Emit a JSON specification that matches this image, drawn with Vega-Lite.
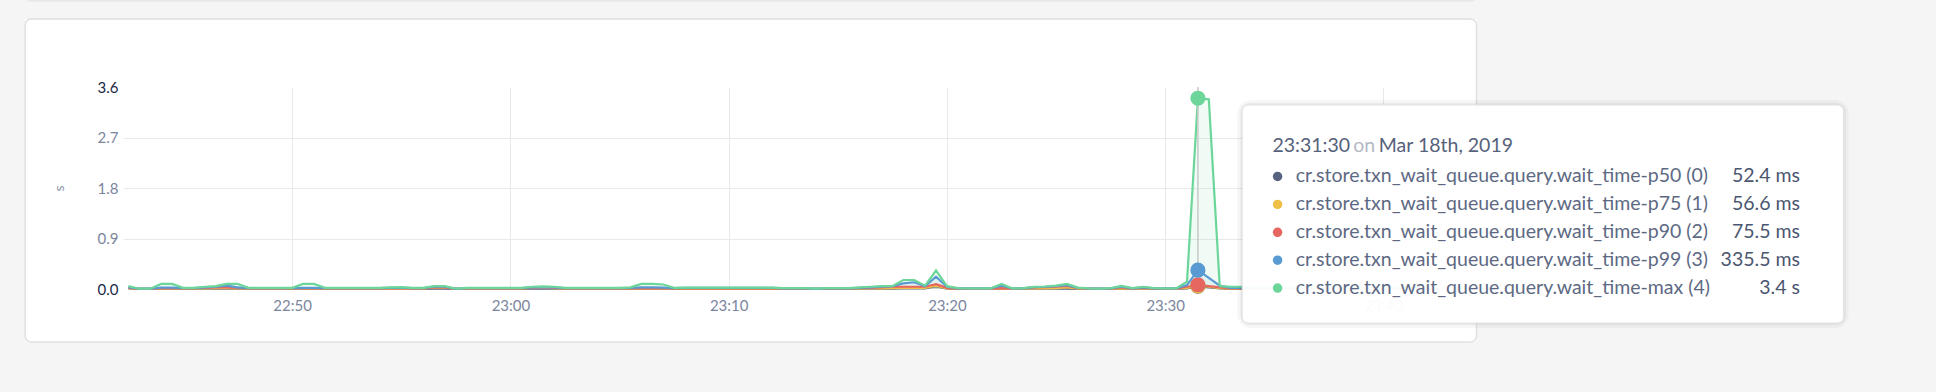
{
  "$schema": "https://vega.github.io/schema/vega-lite/v6.json",
  "width": 1315,
  "height": 202,
  "autosize": {"type": "none"},
  "padding": {"left": 123, "top": 87, "right": 498, "bottom": 103},
  "background": "white",
  "config": {
    "font": "Lato",
    "view": {"stroke": null},
    "axis": {"domain": false, "ticks": false, "labelFont": "Lato", "labelFontSize": 15, "labelColor": "#7b869e", "gridColor": "#e9e9e9", "gridWidth": 1},
    "text": {"font": "Lato"}
  },
  "layer": [
    {
      "data": {"values": [{}]},
      "mark": {"type": "rect", "fill": "#f5f5f5"},
      "encoding": {
        "x": {"datum": {"year": 1900, "month": 1, "date": 1, "hours": 22, "minutes": 20, "seconds": 0}, "type": "temporal"},
        "x2": {"datum": {"year": 1900, "month": 1, "date": 1, "hours": 22, "minutes": 37, "seconds": 46}},
        "y": {"datum": -3},
        "y2": {"datum": 8}
      }
    },
    {
      "data": {"values": [{}]},
      "mark": {"type": "rect", "fill": "#f5f5f5"},
      "encoding": {
        "x": {"datum": {"year": 1900, "month": 1, "date": 1, "hours": 23, "minutes": 44, "seconds": 16}, "type": "temporal"},
        "x2": {"datum": {"year": 1900, "month": 1, "date": 2, "hours": 1, "minutes": 0, "seconds": 0}},
        "y": {"datum": -3},
        "y2": {"datum": 8}
      }
    },
    {
      "data": {"values": [{}]},
      "mark": {"type": "rect", "fill": "#f5f5f5"},
      "encoding": {
        "x": {"datum": {"year": 1900, "month": 1, "date": 1, "hours": 22, "minutes": 20, "seconds": 0}, "type": "temporal"},
        "x2": {"datum": {"year": 1900, "month": 1, "date": 2, "hours": 1, "minutes": 0, "seconds": 0}},
        "y": {"datum": 4.812},
        "y2": {"datum": 8}
      }
    },
    {
      "data": {"values": [{}]},
      "mark": {"type": "rect", "fill": "#f5f5f5"},
      "encoding": {
        "x": {"datum": {"year": 1900, "month": 1, "date": 1, "hours": 22, "minutes": 20, "seconds": 0}, "type": "temporal"},
        "x2": {"datum": {"year": 1900, "month": 1, "date": 2, "hours": 1, "minutes": 0, "seconds": 0}},
        "y": {"datum": -3},
        "y2": {"datum": -0.945}
      }
    },
    {
      "data": {"values": [{}]},
      "mark": {"type": "rect", "fill": "#e9e9e9", "cornerRadius": 5},
      "encoding": {
        "x": {"datum": {"year": 1900, "month": 1, "date": 1, "hours": 22, "minutes": 37, "seconds": 46}, "type": "temporal"},
        "x2": {"datum": {"year": 1900, "month": 1, "date": 1, "hours": 23, "minutes": 44, "seconds": 16}},
        "y": {"datum": 5.12},
        "y2": {"datum": 8}
      }
    },
    {
      "data": {"values": [{}]},
      "mark": {"type": "rect", "fill": "white", "fillOpacity": 0, "stroke": "#e0e0e0", "strokeWidth": 1.5, "cornerRadius": 6},
      "encoding": {
        "x": {"datum": {"year": 1900, "month": 1, "date": 1, "hours": 22, "minutes": 37, "seconds": 46}, "type": "temporal"},
        "x2": {"datum": {"year": 1900, "month": 1, "date": 1, "hours": 23, "minutes": 44, "seconds": 16}},
        "y": {"datum": -0.945},
        "y2": {"datum": 4.812}
      }
    },
    {
      "data": {
        "values": [
          {"t":"22:42:30","p50":0.01,"p75":0.015,"p90":0.02,"p99":0.03,"max":0.05},
          {"t":"22:43:00","p50":0.002,"p75":0.003,"p90":0.004,"p99":0.005,"max":0.005},
          {"t":"22:43:30","p50":0.002,"p75":0.003,"p90":0.004,"p99":0.005,"max":0.005},
          {"t":"22:44:00","p50":0.004,"p75":0.006,"p90":0.01,"p99":0.025,"max":0.09},
          {"t":"22:44:30","p50":0.004,"p75":0.006,"p90":0.01,"p99":0.025,"max":0.09},
          {"t":"22:45:00","p50":0.004,"p75":0.006,"p90":0.01,"p99":0.015,"max":0.02},
          {"t":"22:45:30","p50":0.004,"p75":0.006,"p90":0.01,"p99":0.015,"max":0.02},
          {"t":"22:46:00","p50":0.006,"p75":0.01,"p90":0.02,"p99":0.03,"max":0.04},
          {"t":"22:46:30","p50":0.008,"p75":0.015,"p90":0.03,"p99":0.04,"max":0.05},
          {"t":"22:47:00","p50":0.008,"p75":0.015,"p90":0.03,"p99":0.06,"max":0.09},
          {"t":"22:47:30","p50":0.006,"p75":0.01,"p90":0.02,"p99":0.03,"max":0.09},
          {"t":"22:48:00","p50":0.004,"p75":0.006,"p90":0.01,"p99":0.015,"max":0.02},
          {"t":"22:48:30","p50":0.004,"p75":0.006,"p90":0.01,"p99":0.015,"max":0.02},
          {"t":"22:49:00","p50":0.004,"p75":0.006,"p90":0.01,"p99":0.015,"max":0.02},
          {"t":"22:49:30","p50":0.004,"p75":0.006,"p90":0.01,"p99":0.015,"max":0.02},
          {"t":"22:50:00","p50":0.004,"p75":0.006,"p90":0.01,"p99":0.015,"max":0.02},
          {"t":"22:50:30","p50":0.004,"p75":0.006,"p90":0.01,"p99":0.02,"max":0.09},
          {"t":"22:51:00","p50":0.004,"p75":0.006,"p90":0.01,"p99":0.02,"max":0.09},
          {"t":"22:51:30","p50":0.004,"p75":0.006,"p90":0.01,"p99":0.015,"max":0.02},
          {"t":"22:52:00","p50":0.004,"p75":0.006,"p90":0.01,"p99":0.015,"max":0.02},
          {"t":"22:52:30","p50":0.004,"p75":0.006,"p90":0.01,"p99":0.015,"max":0.02},
          {"t":"22:53:00","p50":0.004,"p75":0.006,"p90":0.01,"p99":0.015,"max":0.02},
          {"t":"22:53:30","p50":0.004,"p75":0.006,"p90":0.01,"p99":0.015,"max":0.02},
          {"t":"22:54:00","p50":0.004,"p75":0.006,"p90":0.01,"p99":0.015,"max":0.02},
          {"t":"22:54:30","p50":0.005,"p75":0.008,"p90":0.012,"p99":0.02,"max":0.03},
          {"t":"22:55:00","p50":0.005,"p75":0.008,"p90":0.015,"p99":0.025,"max":0.035},
          {"t":"22:55:30","p50":0.004,"p75":0.006,"p90":0.01,"p99":0.015,"max":0.02},
          {"t":"22:56:00","p50":0.004,"p75":0.006,"p90":0.01,"p99":0.015,"max":0.02},
          {"t":"22:56:30","p50":0.008,"p75":0.025,"p90":0.03,"p99":0.04,"max":0.05},
          {"t":"22:57:00","p50":0.008,"p75":0.025,"p90":0.03,"p99":0.04,"max":0.05},
          {"t":"22:57:30","p50":0.002,"p75":0.003,"p90":0.004,"p99":0.004,"max":0.005},
          {"t":"22:58:00","p50":0.004,"p75":0.006,"p90":0.01,"p99":0.015,"max":0.02},
          {"t":"22:58:30","p50":0.004,"p75":0.006,"p90":0.01,"p99":0.015,"max":0.02},
          {"t":"22:59:00","p50":0.004,"p75":0.006,"p90":0.01,"p99":0.015,"max":0.02},
          {"t":"22:59:30","p50":0.004,"p75":0.006,"p90":0.01,"p99":0.015,"max":0.02},
          {"t":"23:00:00","p50":0.004,"p75":0.006,"p90":0.01,"p99":0.015,"max":0.02},
          {"t":"23:00:30","p50":0.004,"p75":0.006,"p90":0.01,"p99":0.015,"max":0.02},
          {"t":"23:01:00","p50":0.006,"p75":0.02,"p90":0.025,"p99":0.03,"max":0.04},
          {"t":"23:01:30","p50":0.006,"p75":0.025,"p90":0.03,"p99":0.035,"max":0.045},
          {"t":"23:02:00","p50":0.006,"p75":0.015,"p90":0.02,"p99":0.03,"max":0.04},
          {"t":"23:02:30","p50":0.004,"p75":0.006,"p90":0.01,"p99":0.015,"max":0.02},
          {"t":"23:03:00","p50":0.004,"p75":0.006,"p90":0.01,"p99":0.015,"max":0.02},
          {"t":"23:03:30","p50":0.004,"p75":0.006,"p90":0.01,"p99":0.015,"max":0.02},
          {"t":"23:04:00","p50":0.004,"p75":0.006,"p90":0.01,"p99":0.015,"max":0.02},
          {"t":"23:04:30","p50":0.004,"p75":0.006,"p90":0.01,"p99":0.015,"max":0.02},
          {"t":"23:05:00","p50":0.004,"p75":0.006,"p90":0.01,"p99":0.015,"max":0.02},
          {"t":"23:05:30","p50":0.004,"p75":0.006,"p90":0.01,"p99":0.02,"max":0.03},
          {"t":"23:06:00","p50":0.004,"p75":0.006,"p90":0.01,"p99":0.03,"max":0.09},
          {"t":"23:06:30","p50":0.004,"p75":0.006,"p90":0.01,"p99":0.03,"max":0.09},
          {"t":"23:07:00","p50":0.004,"p75":0.006,"p90":0.01,"p99":0.025,"max":0.08},
          {"t":"23:07:30","p50":0.004,"p75":0.006,"p90":0.01,"p99":0.015,"max":0.02},
          {"t":"23:08:00","p50":0.004,"p75":0.006,"p90":0.012,"p99":0.02,"max":0.025},
          {"t":"23:08:30","p50":0.004,"p75":0.006,"p90":0.012,"p99":0.02,"max":0.025},
          {"t":"23:09:00","p50":0.004,"p75":0.006,"p90":0.012,"p99":0.02,"max":0.025},
          {"t":"23:09:30","p50":0.004,"p75":0.006,"p90":0.012,"p99":0.02,"max":0.025},
          {"t":"23:10:00","p50":0.004,"p75":0.006,"p90":0.012,"p99":0.02,"max":0.025},
          {"t":"23:10:30","p50":0.004,"p75":0.006,"p90":0.012,"p99":0.02,"max":0.025},
          {"t":"23:11:00","p50":0.004,"p75":0.006,"p90":0.012,"p99":0.02,"max":0.025},
          {"t":"23:11:30","p50":0.004,"p75":0.006,"p90":0.012,"p99":0.02,"max":0.025},
          {"t":"23:12:00","p50":0.004,"p75":0.006,"p90":0.012,"p99":0.02,"max":0.025},
          {"t":"23:12:30","p50":0.003,"p75":0.005,"p90":0.008,"p99":0.01,"max":0.015},
          {"t":"23:13:00","p50":0.003,"p75":0.005,"p90":0.008,"p99":0.01,"max":0.015},
          {"t":"23:13:30","p50":0.003,"p75":0.005,"p90":0.008,"p99":0.01,"max":0.015},
          {"t":"23:14:00","p50":0.002,"p75":0.003,"p90":0.004,"p99":0.004,"max":0.005},
          {"t":"23:14:30","p50":0.003,"p75":0.005,"p90":0.008,"p99":0.01,"max":0.015},
          {"t":"23:15:00","p50":0.003,"p75":0.005,"p90":0.008,"p99":0.01,"max":0.015},
          {"t":"23:15:30","p50":0.003,"p75":0.005,"p90":0.008,"p99":0.01,"max":0.015},
          {"t":"23:16:00","p50":0.004,"p75":0.008,"p90":0.015,"p99":0.02,"max":0.03},
          {"t":"23:16:30","p50":0.005,"p75":0.01,"p90":0.02,"p99":0.03,"max":0.04},
          {"t":"23:17:00","p50":0.006,"p75":0.012,"p90":0.03,"p99":0.04,"max":0.05},
          {"t":"23:17:30","p50":0.008,"p75":0.015,"p90":0.04,"p99":0.05,"max":0.05},
          {"t":"23:18:00","p50":0.01,"p75":0.02,"p90":0.04,"p99":0.1,"max":0.16},
          {"t":"23:18:30","p50":0.01,"p75":0.02,"p90":0.04,"p99":0.12,"max":0.16},
          {"t":"23:19:00","p50":0.01,"p75":0.02,"p90":0.04,"p99":0.05,"max":0.06},
          {"t":"23:19:30","p50":0.05,"p75":0.06,"p90":0.085,"p99":0.22,"max":0.33},
          {"t":"23:20:00","p50":0.006,"p75":0.01,"p90":0.02,"p99":0.04,"max":0.05},
          {"t":"23:20:30","p50":0.003,"p75":0.005,"p90":0.008,"p99":0.01,"max":0.015},
          {"t":"23:21:00","p50":0.003,"p75":0.005,"p90":0.008,"p99":0.01,"max":0.01},
          {"t":"23:21:30","p50":0.003,"p75":0.005,"p90":0.008,"p99":0.01,"max":0.01},
          {"t":"23:22:00","p50":0.003,"p75":0.005,"p90":0.008,"p99":0.01,"max":0.01},
          {"t":"23:22:30","p50":0.004,"p75":0.008,"p90":0.015,"p99":0.06,"max":0.09},
          {"t":"23:23:00","p50":0.003,"p75":0.005,"p90":0.008,"p99":0.01,"max":0.01},
          {"t":"23:23:30","p50":0.003,"p75":0.005,"p90":0.01,"p99":0.012,"max":0.015},
          {"t":"23:24:00","p50":0.005,"p75":0.01,"p90":0.03,"p99":0.035,"max":0.04},
          {"t":"23:24:30","p50":0.005,"p75":0.012,"p90":0.035,"p99":0.04,"max":0.045},
          {"t":"23:25:00","p50":0.006,"p75":0.015,"p90":0.04,"p99":0.05,"max":0.06},
          {"t":"23:25:30","p50":0.008,"p75":0.03,"p90":0.055,"p99":0.07,"max":0.09},
          {"t":"23:26:00","p50":0.004,"p75":0.008,"p90":0.015,"p99":0.02,"max":0.025},
          {"t":"23:26:30","p50":0.003,"p75":0.005,"p90":0.008,"p99":0.01,"max":0.01},
          {"t":"23:27:00","p50":0.002,"p75":0.003,"p90":0.004,"p99":0.005,"max":0.005},
          {"t":"23:27:30","p50":0.003,"p75":0.005,"p90":0.008,"p99":0.01,"max":0.015},
          {"t":"23:28:00","p50":0.004,"p75":0.008,"p90":0.03,"p99":0.04,"max":0.055},
          {"t":"23:28:30","p50":0.003,"p75":0.005,"p90":0.008,"p99":0.01,"max":0.015},
          {"t":"23:29:00","p50":0.004,"p75":0.008,"p90":0.02,"p99":0.03,"max":0.04},
          {"t":"23:29:30","p50":0.003,"p75":0.005,"p90":0.008,"p99":0.01,"max":0.015},
          {"t":"23:30:00","p50":0.003,"p75":0.005,"p90":0.008,"p99":0.01,"max":0.01},
          {"t":"23:30:30","p50":0.003,"p75":0.005,"p90":0.008,"p99":0.01,"max":0.01},
          {"t":"23:31:00","p50":0.01,"p75":0.02,"p90":0.04,"p99":0.07,"max":0.13},
          {"t":"23:31:30","p50":0.0524,"p75":0.0566,"p90":0.0755,"p99":0.3355,"max":3.4},
          {"t":"23:32:00","p50":0.035,"p75":0.04,"p90":0.05,"p99":0.2,"max":3.38},
          {"t":"23:32:30","p50":0.01,"p75":0.015,"p90":0.03,"p99":0.06,"max":0.05},
          {"t":"23:33:00","p50":0.004,"p75":0.006,"p90":0.01,"p99":0.02,"max":0.04},
          {"t":"23:33:30","p50":0.004,"p75":0.006,"p90":0.01,"p99":0.02,"max":0.04},
          {"t":"23:34:00","p50":0.004,"p75":0.006,"p90":0.01,"p99":0.02,"max":0.04},
          {"t":"23:34:30","p50":0.004,"p75":0.006,"p90":0.01,"p99":0.02,"max":0.04},
          {"t":"23:35:00","p50":0.004,"p75":0.006,"p90":0.01,"p99":0.02,"max":0.04},
          {"t":"23:35:30","p50":0.004,"p75":0.006,"p90":0.01,"p99":0.02,"max":0.04},
          {"t":"23:36:00","p50":0.004,"p75":0.006,"p90":0.01,"p99":0.02,"max":0.04},
          {"t":"23:36:30","p50":0.004,"p75":0.006,"p90":0.01,"p99":0.02,"max":0.04},
          {"t":"23:37:00","p50":0.004,"p75":0.006,"p90":0.01,"p99":0.02,"max":0.04},
          {"t":"23:37:30","p50":0.004,"p75":0.006,"p90":0.01,"p99":0.02,"max":0.04},
          {"t":"23:38:00","p50":0.004,"p75":0.006,"p90":0.01,"p99":0.02,"max":0.04},
          {"t":"23:38:30","p50":0.004,"p75":0.006,"p90":0.01,"p99":0.02,"max":0.04},
          {"t":"23:39:00","p50":0.004,"p75":0.006,"p90":0.01,"p99":0.02,"max":0.04},
          {"t":"23:39:30","p50":0.004,"p75":0.006,"p90":0.01,"p99":0.02,"max":0.04},
          {"t":"23:40:00","p50":0.004,"p75":0.006,"p90":0.01,"p99":0.02,"max":0.04},
          {"t":"23:40:30","p50":0.004,"p75":0.006,"p90":0.01,"p99":0.02,"max":0.04},
          {"t":"23:41:00","p50":0.004,"p75":0.006,"p90":0.01,"p99":0.02,"max":0.04},
          {"t":"23:41:30","p50":0.004,"p75":0.006,"p90":0.01,"p99":0.02,"max":0.04},
          {"t":"23:42:00","p50":0.004,"p75":0.006,"p90":0.01,"p99":0.02,"max":0.04},
          {"t":"23:42:30","p50":0.004,"p75":0.006,"p90":0.01,"p99":0.02,"max":0.04}
        ],
        "format": {"parse": {"t": "date:'%H:%M:%S'"}}
      },
      "transform": [{"fold": ["p50", "p75", "p90", "p99", "max"], "as": ["key", "v"]}],
      "encoding": {
        "x": {
          "field": "t", "type": "temporal", "title": null,
          "scale": {"domain": [{"year": 1900, "month": 1, "date": 1, "hours": 22, "minutes": 42, "seconds": 15}, {"year": 1900, "month": 1, "date": 1, "hours": 23, "minutes": 42, "seconds": 30}], "nice": false},
          "axis": {
            "format": "%H:%M", "labelPadding": 9, "grid": true,
            "values": [
              {"year": 1900, "month": 1, "date": 1, "hours": 22, "minutes": 50},
              {"year": 1900, "month": 1, "date": 1, "hours": 23, "minutes": 0},
              {"year": 1900, "month": 1, "date": 1, "hours": 23, "minutes": 10},
              {"year": 1900, "month": 1, "date": 1, "hours": 23, "minutes": 20},
              {"year": 1900, "month": 1, "date": 1, "hours": 23, "minutes": 30},
              {"year": 1900, "month": 1, "date": 1, "hours": 23, "minutes": 40}
            ]
          }
        },
        "y": {
          "field": "v", "type": "quantitative", "title": "s", "stack": null,
          "scale": {"domain": [0, 3.6], "nice": false, "zero": false},
          "axis": {
            "values": [0, 0.9, 1.8, 2.7, 3.6], "format": ".1f", "labelPadding": 5, "grid": true,
            "gridOpacity": {"condition": {"test": "datum.value == 0 || datum.value == 3.6", "value": 0}, "value": 1},
            "labelColor": {"condition": {"test": "datum.value == 0 || datum.value == 3.6", "value": "#1b2a47"}, "value": "#7b869e"},
            "titleFont": "Lato", "titleFontSize": 14, "titleFontWeight": "normal", "titleColor": "#8c94a6", "titlePadding": 31
          }
        },
        "color": {
          "field": "key", "type": "nominal", "legend": null,
          "scale": {"domain": ["p50", "p75", "p90", "p99", "max"], "range": ["#56627f", "#efc046", "#e5675f", "#5a9ad2", "#6cd69a"]}
        }
      },
      "layer": [
        {"mark": {"type": "area", "opacity": 0.1}},
        {"transform": [{"filter": "datum.key != 'max'"}], "mark": {"type": "line", "strokeWidth": 2.2}},
        {"transform": [{"filter": "datum.key == 'max'"}], "mark": {"type": "line", "strokeWidth": 2.2}}
      ]
    },
    {
      "data": {"values": [{}]},
      "mark": {"type": "rule", "color": "#c8c8c8", "strokeWidth": 1.5},
      "encoding": {
        "x": {"datum": {"year": 1900, "month": 1, "date": 1, "hours": 23, "minutes": 31, "seconds": 30}, "type": "temporal"}
      }
    },
    {
      "data": {
        "values": [
          {"t": "23:31:30", "key": "p50", "v": 0.0524},
          {"t": "23:31:30", "key": "p75", "v": 0.0566},
          {"t": "23:31:30", "key": "p90", "v": 0.0755},
          {"t": "23:31:30", "key": "p99", "v": 0.3355},
          {"t": "23:31:30", "key": "max", "v": 3.4}
        ],
        "format": {"parse": {"t": "date:'%H:%M:%S'"}}
      },
      "mark": {"type": "circle", "size": 230, "opacity": 1},
      "encoding": {
        "x": {"field": "t", "type": "temporal"},
        "y": {"field": "v", "type": "quantitative"},
        "color": {"field": "key", "type": "nominal", "legend": null}
      }
    },
    {
      "data": {"values": [{}]},
      "mark": {"type": "rect", "fillOpacity": 0, "stroke": "#000000", "strokeOpacity": 0.035, "strokeWidth": 10, "cornerRadius": 9},
      "encoding": {
        "x": {"datum": {"year": 1900, "month": 1, "date": 1, "hours": 23, "minutes": 33, "seconds": 32}, "type": "temporal"},
        "x2": {"datum": {"year": 1900, "month": 1, "date": 2, "hours": 0, "minutes": 1, "seconds": 5}},
        "y": {"datum": -0.606},
        "y2": {"datum": 3.279}
      }
    },
    {
      "data": {"values": [{}]},
      "mark": {"type": "rect", "fillOpacity": 0, "stroke": "#000000", "strokeOpacity": 0.05, "strokeWidth": 4, "cornerRadius": 7},
      "encoding": {
        "x": {"datum": {"year": 1900, "month": 1, "date": 1, "hours": 23, "minutes": 33, "seconds": 32}, "type": "temporal"},
        "x2": {"datum": {"year": 1900, "month": 1, "date": 2, "hours": 0, "minutes": 1, "seconds": 5}},
        "y": {"datum": -0.606},
        "y2": {"datum": 3.279}
      }
    },
    {
      "data": {"values": [{}]},
      "mark": {"type": "rect", "fill": "white", "fillOpacity": 0.96, "stroke": "#e3e3e3", "strokeWidth": 1, "cornerRadius": 6},
      "encoding": {
        "x": {"datum": {"year": 1900, "month": 1, "date": 1, "hours": 23, "minutes": 33, "seconds": 32}, "type": "temporal"},
        "x2": {"datum": {"year": 1900, "month": 1, "date": 2, "hours": 0, "minutes": 1, "seconds": 5}},
        "y": {"datum": -0.606},
        "y2": {"datum": 3.279}
      }
    },
    {
      "data": {"values": [{"txt": "23:31:30"}]},
      "mark": {"type": "text", "align": "left", "baseline": "middle", "fontSize": 19.5, "color": "#56617b"},
      "encoding": {
        "x": {"datum": {"year": 1900, "month": 1, "date": 1, "hours": 23, "minutes": 34, "seconds": 55}, "type": "temporal"},
        "y": {"datum": 2.549},
        "text": {"field": "txt"}
      }
    },
    {
      "data": {"values": [{"txt": "on"}]},
      "mark": {"type": "text", "align": "left", "baseline": "middle", "fontSize": 19.5, "color": "#b4b9c4"},
      "encoding": {
        "x": {"datum": {"year": 1900, "month": 1, "date": 1, "hours": 23, "minutes": 38, "seconds": 37}, "type": "temporal"},
        "y": {"datum": 2.549},
        "text": {"field": "txt"}
      }
    },
    {
      "data": {"values": [{"txt": "Mar 18th, 2019"}]},
      "mark": {"type": "text", "align": "left", "baseline": "middle", "fontSize": 19.5, "color": "#56617b"},
      "encoding": {
        "x": {"datum": {"year": 1900, "month": 1, "date": 1, "hours": 23, "minutes": 39, "seconds": 47}, "type": "temporal"},
        "y": {"datum": 2.549},
        "text": {"field": "txt"}
      }
    },
    {
      "data": {"values": [{"key": "p50", "name": "cr.store.txn_wait_queue.query.wait_time-p50 (0)", "val": "52.4 ms"}]},
      "encoding": {"y": {"datum": 2.005}},
      "layer": [
        {"mark": {"type": "circle", "size": 90, "opacity": 1}, "encoding": {"x": {"datum": {"year": 1900, "month": 1, "date": 1, "hours": 23, "minutes": 35, "seconds": 9}, "type": "temporal"}, "color": {"field": "key", "type": "nominal", "legend": null}}},
        {"mark": {"type": "text", "align": "left", "baseline": "middle", "fontSize": 19.5, "color": "#5d6983"}, "encoding": {"x": {"datum": {"year": 1900, "month": 1, "date": 1, "hours": 23, "minutes": 35, "seconds": 59}, "type": "temporal"}, "text": {"field": "name"}}},
        {"mark": {"type": "text", "align": "right", "baseline": "middle", "fontSize": 19.5, "color": "#4b5670"}, "encoding": {"x": {"datum": {"year": 1900, "month": 1, "date": 1, "hours": 23, "minutes": 59, "seconds": 5}, "type": "temporal"}, "text": {"field": "val"}}}
      ]
    },
    {
      "data": {"values": [{"key": "p75", "name": "cr.store.txn_wait_queue.query.wait_time-p75 (1)", "val": "56.6 ms"}]},
      "encoding": {"y": {"datum": 1.508}},
      "layer": [
        {"mark": {"type": "circle", "size": 90, "opacity": 1}, "encoding": {"x": {"datum": {"year": 1900, "month": 1, "date": 1, "hours": 23, "minutes": 35, "seconds": 9}, "type": "temporal"}, "color": {"field": "key", "type": "nominal", "legend": null}}},
        {"mark": {"type": "text", "align": "left", "baseline": "middle", "fontSize": 19.5, "color": "#5d6983"}, "encoding": {"x": {"datum": {"year": 1900, "month": 1, "date": 1, "hours": 23, "minutes": 35, "seconds": 59}, "type": "temporal"}, "text": {"field": "name"}}},
        {"mark": {"type": "text", "align": "right", "baseline": "middle", "fontSize": 19.5, "color": "#4b5670"}, "encoding": {"x": {"datum": {"year": 1900, "month": 1, "date": 1, "hours": 23, "minutes": 59, "seconds": 5}, "type": "temporal"}, "text": {"field": "val"}}}
      ]
    },
    {
      "data": {"values": [{"key": "p90", "name": "cr.store.txn_wait_queue.query.wait_time-p90 (2)", "val": "75.5 ms"}]},
      "encoding": {"y": {"datum": 1.011}},
      "layer": [
        {"mark": {"type": "circle", "size": 90, "opacity": 1}, "encoding": {"x": {"datum": {"year": 1900, "month": 1, "date": 1, "hours": 23, "minutes": 35, "seconds": 9}, "type": "temporal"}, "color": {"field": "key", "type": "nominal", "legend": null}}},
        {"mark": {"type": "text", "align": "left", "baseline": "middle", "fontSize": 19.5, "color": "#5d6983"}, "encoding": {"x": {"datum": {"year": 1900, "month": 1, "date": 1, "hours": 23, "minutes": 35, "seconds": 59}, "type": "temporal"}, "text": {"field": "name"}}},
        {"mark": {"type": "text", "align": "right", "baseline": "middle", "fontSize": 19.5, "color": "#4b5670"}, "encoding": {"x": {"datum": {"year": 1900, "month": 1, "date": 1, "hours": 23, "minutes": 59, "seconds": 5}, "type": "temporal"}, "text": {"field": "val"}}}
      ]
    },
    {
      "data": {"values": [{"key": "p99", "name": "cr.store.txn_wait_queue.query.wait_time-p99 (3)", "val": "335.5 ms"}]},
      "encoding": {"y": {"datum": 0.514}},
      "layer": [
        {"mark": {"type": "circle", "size": 90, "opacity": 1}, "encoding": {"x": {"datum": {"year": 1900, "month": 1, "date": 1, "hours": 23, "minutes": 35, "seconds": 9}, "type": "temporal"}, "color": {"field": "key", "type": "nominal", "legend": null}}},
        {"mark": {"type": "text", "align": "left", "baseline": "middle", "fontSize": 19.5, "color": "#5d6983"}, "encoding": {"x": {"datum": {"year": 1900, "month": 1, "date": 1, "hours": 23, "minutes": 35, "seconds": 59}, "type": "temporal"}, "text": {"field": "name"}}},
        {"mark": {"type": "text", "align": "right", "baseline": "middle", "fontSize": 19.5, "color": "#4b5670"}, "encoding": {"x": {"datum": {"year": 1900, "month": 1, "date": 1, "hours": 23, "minutes": 59, "seconds": 5}, "type": "temporal"}, "text": {"field": "val"}}}
      ]
    },
    {
      "data": {"values": [{"key": "max", "name": "cr.store.txn_wait_queue.query.wait_time-max (4)", "val": "3.4 s"}]},
      "encoding": {"y": {"datum": 0.017}},
      "layer": [
        {"mark": {"type": "circle", "size": 90, "opacity": 1}, "encoding": {"x": {"datum": {"year": 1900, "month": 1, "date": 1, "hours": 23, "minutes": 35, "seconds": 9}, "type": "temporal"}, "color": {"field": "key", "type": "nominal", "legend": null}}},
        {"mark": {"type": "text", "align": "left", "baseline": "middle", "fontSize": 19.5, "color": "#5d6983"}, "encoding": {"x": {"datum": {"year": 1900, "month": 1, "date": 1, "hours": 23, "minutes": 35, "seconds": 59}, "type": "temporal"}, "text": {"field": "name"}}},
        {"mark": {"type": "text", "align": "right", "baseline": "middle", "fontSize": 19.5, "color": "#4b5670"}, "encoding": {"x": {"datum": {"year": 1900, "month": 1, "date": 1, "hours": 23, "minutes": 59, "seconds": 5}, "type": "temporal"}, "text": {"field": "val"}}}
      ]
    }
  ]
}
